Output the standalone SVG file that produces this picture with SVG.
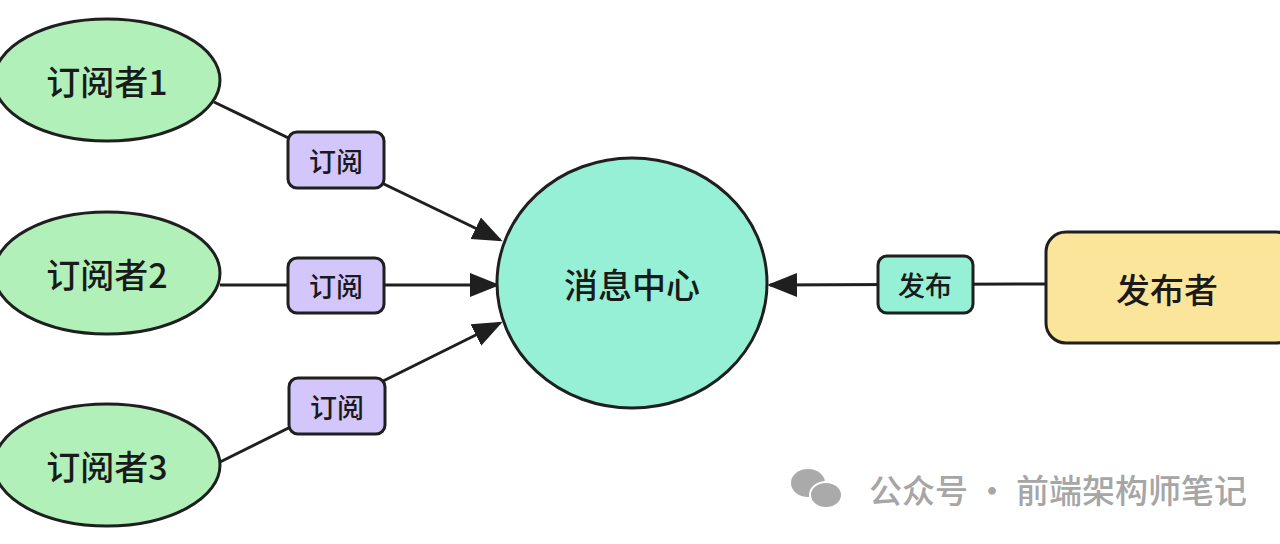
<svg xmlns="http://www.w3.org/2000/svg" width="1280" height="544" viewBox="0 0 1280 544">
<style>
text{font-family:"Noto Sans CJK SC","Liberation Sans",sans-serif;text-anchor:middle;dominant-baseline:central;fill:#1a1a1a;font-weight:500}
.sub{fill:#b1f0b8;stroke:#1f1f1f;stroke-width:3}
.lbl{fill:#d2c6fb;stroke:#1f1f1f;stroke-width:3}
.ln{stroke:#1f1f1f;stroke-width:3;fill:none}
</style>
<defs>
<marker id="a2" viewBox="0 0 10 10" refX="9" refY="5" markerWidth="30" markerHeight="30" markerUnits="userSpaceOnUse" orient="auto"><path d="M0,1 L10,5 L0,9 z" fill="#1f1f1f"/></marker></defs>
<rect width="1280" height="544" fill="#fff"/>
<g id="connectors">
<path class="ln" d="M214,102 L500,240" marker-end="url(#a2)"/>
<path class="ln" d="M220,285 L497,285" marker-end="url(#a2)"/>
<path class="ln" d="M220,462 L500,323" marker-end="url(#a2)"/>
<path class="ln" d="M1046,284 L770,285" marker-end="url(#a2)"/>
</g>
<g id="sub1"><ellipse class="sub" cx="107" cy="80" rx="113" ry="61"/><text x="107" y="80" font-size="34">订阅者1</text></g>
<g id="sub2"><ellipse class="sub" cx="107" cy="273" rx="113" ry="61"/><text x="107" y="273" font-size="34">订阅者2</text></g>
<g id="sub3"><ellipse class="sub" cx="107" cy="465" rx="113" ry="61"/><text x="107" y="465" font-size="34">订阅者3</text></g>
<g id="center"><ellipse cx="632" cy="283" rx="135" ry="125" fill="#95f0d6" stroke="#1f1f1f" stroke-width="3"/><text x="632" y="283" font-size="34">消息中心</text></g>
<g id="publisher"><rect x="1046" y="232" width="250" height="111" rx="20" fill="#fbe59b" stroke="#1f1f1f" stroke-width="3"/><text x="1167" y="288" font-size="34">发布者</text></g>
<g id="l1"><rect class="lbl" x="288" y="132" width="96" height="56" rx="9"/><text x="336" y="160" font-size="27">订阅</text></g>
<g id="l2"><rect class="lbl" x="288" y="258" width="96" height="55" rx="9"/><text x="336" y="285" font-size="27">订阅</text></g>
<g id="l3"><rect class="lbl" x="289" y="378" width="96" height="56" rx="9"/><text x="337" y="406" font-size="27">订阅</text></g>
<g id="l4"><rect x="878" y="256" width="95" height="57" rx="9" fill="#95f0d6" stroke="#1f1f1f" stroke-width="3"/><text x="925" y="284" font-size="27">发布</text></g>
<g id="watermark">
<ellipse cx="808" cy="483" rx="17" ry="14" fill="#aaa"/><ellipse cx="826" cy="495" rx="16" ry="13" fill="#aaa" stroke="#fff" stroke-width="2"/>
<text x="1058" y="489" font-size="33" font-weight="400" style="fill:#a6a6a6">公众号 · 前端架构师笔记</text></g>
</svg>
